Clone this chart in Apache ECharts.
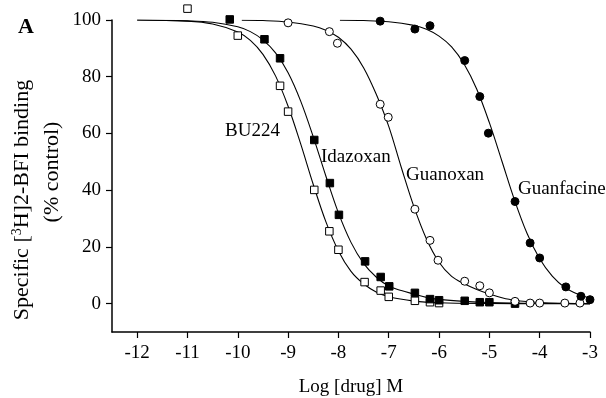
<!DOCTYPE html>
<html>
<head>
<meta charset="utf-8">
<script src="https://cdn.jsdelivr.net/npm/echarts@6/dist/echarts.min.js"></script>
<style>
  html, body { margin: 0; padding: 0; background: #fff; }
  #chart { width: 606px; height: 398px; }
</style>
</head>
<body>
<div id="chart"></div>
<script>
const FONT = '"Liberation Serif", "DejaVu Serif", serif';

const xTicks = [-12, -11, -10, -9, -8, -7, -6, -5, -4, -3];
const yTicks = [0, 20, 40, 60, 80, 100];

// measured points [log M, % control]
const bu224Points = [
  [-11, 104], [-10, 94.5], [-9.16, 76.8], [-9.0, 67.7], [-8.48, 40.1], [-8.18, 25.5],
  [-8.0, 19.0], [-7.48, 7.6], [-7.16, 4.6], [-7.0, 2.4], [-6.48, 1.0], [-6.18, 0.5], [-6.0, 0.2],
];
const idazoxanPoints = [
  [-10.16, 100.2], [-9.47, 93.2], [-9.16, 86.5], [-8.48, 57.7], [-8.17, 42.5], [-7.99, 31.3],
  [-7.47, 14.9], [-7.16, 9.4], [-6.99, 6.1], [-6.48, 3.8], [-6.18, 1.6], [-6.0, 1.2],
  [-5.49, 1.0], [-5.19, 0.5], [-5.0, 0.5], [-4.49, 0],
];
const guanoxanPoints = [
  [-9.0, 99.0], [-8.18, 95.9], [-8.02, 91.8], [-7.17, 70.3], [-7.01, 65.7], [-6.48, 33.3],
  [-6.18, 22.3], [-6.02, 15.3], [-5.49, 7.9], [-5.19, 6.3], [-5.0, 3.8], [-4.49, 0.8],
  [-4.19, 0.2], [-4.0, 0.2], [-3.5, 0.2], [-3.2, 0.2],
];
const guanfacinePoints = [
  [-7.17, 99.6], [-6.48, 96.8], [-6.18, 98.0], [-5.49, 85.7], [-5.19, 73.0], [-5.02, 60.1],
  [-4.49, 36.0], [-4.19, 21.4], [-4.0, 16.1], [-3.48, 5.9], [-3.18, 2.6], [-3.0, 1.4],
];

// fitted curves
const bu224Curve = [
  [-12, 100], [-11, 99.6], [-10.5, 98.6], [-10, 95.8], [-9.75, 92.8], [-9.5, 87.9], [-9.25, 80.3],
  [-9, 69.6], [-8.75, 56.3], [-8.5, 42], [-8.25, 28.9], [-8, 18.6], [-7.75, 11.4], [-7.5, 7],
  [-7.25, 4.1], [-7, 2.4], [-6.5, 0.9], [-6, 0.3], [-5, 0.05], [-4, 0], [-3, 0],
];
const idazoxanCurve = [
  [-12, 100], [-11, 99.7], [-10.5, 99.2], [-10, 97.6], [-9.75, 95.9], [-9.5, 93], [-9.25, 88.4],
  [-9, 81.4], [-8.75, 71.4], [-8.5, 58.8], [-8.25, 45], [-8, 32], [-7.75, 21.6], [-7.5, 14.2],
  [-7.25, 9.4], [-7, 6.2], [-6.75, 4.6], [-6.5, 3.4], [-6.25, 2.2], [-6, 1.5], [-5.5, 0.8],
  [-5, 0.4], [-4, 0.1], [-3, 0],
];
const guanoxanCurve = [
  [-9.92, 99.9], [-9.5, 99.8], [-9, 99.3], [-8.5, 97.9], [-8.25, 96.4], [-8, 93.9], [-7.75, 89.7],
  [-7.5, 83.2], [-7.25, 73.9], [-7, 62.5], [-6.75, 48], [-6.5, 34.2], [-6.25, 22.8], [-6, 14.6],
  [-5.75, 9.6], [-5.5, 7], [-5.25, 5], [-5, 3.4], [-4.75, 2.1], [-4.5, 1.2], [-4, 0.4],
  [-3.5, 0.1], [-3, 0],
];
const guanfacineCurve = [
  [-7.97, 99.9], [-7.5, 99.8], [-7, 99.4], [-6.5, 98.1], [-6.25, 96.7], [-6, 94.3], [-5.75, 90.5],
  [-5.5, 84.4], [-5.25, 75.6], [-5, 63.8], [-4.75, 50.2], [-4.5, 36.5], [-4.25, 24.7], [-4, 15.8],
  [-3.75, 9.7], [-3.5, 5.7], [-3.25, 3.4], [-3, 1.9],
];

const curve = (name, data) => ({
  name,
  type: 'line',
  data,
  smooth: 0.35,
  showSymbol: false,
  silent: true,
  lineStyle: { color: '#000', width: 1.1 },
  z: 2,
});

const dots = (name, data, symbol, filled) => ({
  name,
  type: 'scatter',
  data,
  clip: false,
  symbol,
  symbolSize: symbol === 'rect' ? 7.5 : 8,
  itemStyle: {
    color: filled ? '#000' : '#fff',
    borderColor: '#000',
    borderWidth: 1,
    opacity: 1,
  },
  z: 3,
});

const label = (text, x, y) => ({
  type: 'text',
  left: x,
  top: y,
  style: { text, font: '19px ' + FONT, fill: '#000' },
});

// rotated y-axis title, two lines placed separately
const yTitle = (text, x, y) => ({
  type: 'text',
  x,
  y,
  rotation: Math.PI / 2,
  style: {
    text,
    align: 'center',
    verticalAlign: 'middle',
    font: '22px ' + FONT,
    fill: '#000',
    rich: {
      n: { fontSize: 22, fontFamily: FONT, color: '#000' },
      sup: { fontSize: 14, fontFamily: FONT, color: '#000', verticalAlign: 'top', padding: [0, 0, 9, 0] },
    },
  },
});

const chart = echarts.init(document.getElementById('chart'), null, { renderer: 'canvas' });

const option = {
  animation: false,
  backgroundColor: '#fff',
  grid: { left: 112, right: 16, top: 20, bottom: 66, outerBoundsMode: 'none' },
  xAxis: {
    type: 'value',
    min: -12.5,
    max: -3,
    splitLine: { show: false },
    axisLine: { onZero: false, lineStyle: { color: '#000', width: 1.5 } },
    axisTick: { length: 6, customValues: xTicks, lineStyle: { color: '#000', width: 1.2 } },
    axisLabel: {
      customValues: xTicks,
      margin: 12,
      color: '#000',
      fontFamily: FONT,
      fontSize: 19,
    },
    name: 'Log [drug] M',
    nameLocation: 'middle',
    nameGap: 46,
    nameTextStyle: { color: '#000', fontFamily: FONT, fontSize: 19 },
  },
  yAxis: {
    type: 'value',
    min: -10,
    max: 100,
    splitLine: { show: false },
    axisLine: { show: true, onZero: false, lineStyle: { color: '#000', width: 1.5 } },
    axisTick: { show: true, length: 6, customValues: yTicks, lineStyle: { color: '#000', width: 1.2 } },
    axisLabel: {
      customValues: yTicks,
      margin: 11,
      color: '#000',
      fontFamily: FONT,
      fontSize: 19,
    },
  },
  graphic: [
    {
      type: 'text',
      left: 18,
      top: 16,
      style: { text: 'A', font: 'bold 22px ' + FONT, fill: '#000' },
    },
    yTitle('{n|Specific [}{sup|3}{n|H]2-BFI binding}', 22, 200),
    yTitle('(% control)', 52, 172),
    label('BU224', 225, 122),
    label('Idazoxan', 321, 148),
    label('Guanoxan', 406, 166),
    label('Guanfacine', 518, 180),
  ],
  series: [
    curve('BU224 fit', bu224Curve),
    curve('Idazoxan fit', idazoxanCurve),
    curve('Guanoxan fit', guanoxanCurve),
    curve('Guanfacine fit', guanfacineCurve),
    dots('BU224', bu224Points, 'rect', false),
    dots('Idazoxan', idazoxanPoints, 'rect', true),
    dots('Guanoxan', guanoxanPoints, 'circle', false),
    dots('Guanfacine', guanfacinePoints, 'circle', true),
  ],
};

chart.setOption(option);
</script>
</body>
</html>
